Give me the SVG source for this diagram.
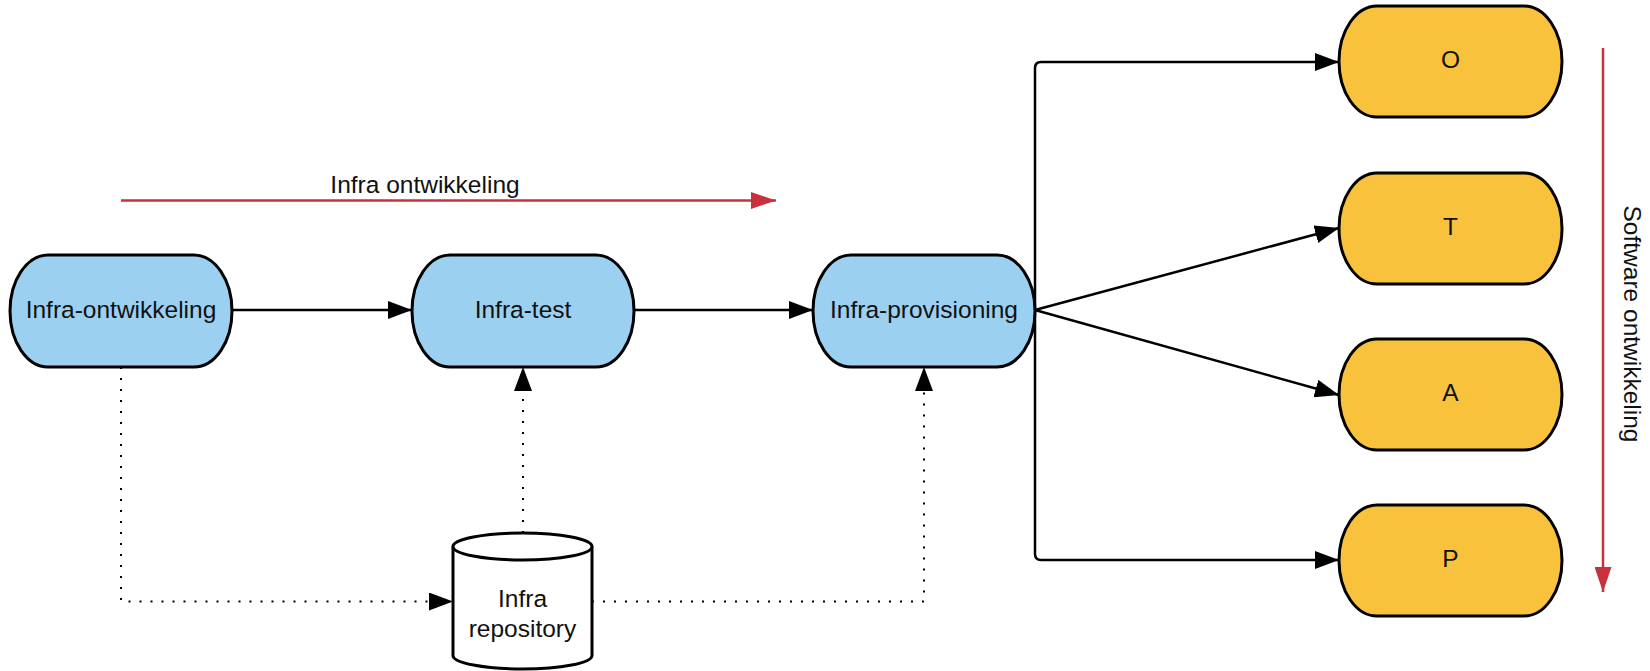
<svg xmlns="http://www.w3.org/2000/svg" width="1650" height="671" viewBox="0 0 1650 671">
<style>
  .blue { fill: #9CD0F1; stroke: #000; stroke-width: 3; }
  .orange { fill: #F9C23C; stroke: #000; stroke-width: 3; }
  .cyl { fill: #fff; stroke: #000; stroke-width: 3; }
  .lbl { font-family: "Liberation Sans", Arial, sans-serif; font-size: 24.5px; fill: #111; text-anchor: middle; }
  .solid { fill: none; stroke: #000; stroke-width: 2.5; }
  .dotted { fill: none; stroke: #000; stroke-width: 2; stroke-dasharray: 2 9; }
  .red { fill: none; stroke: #C8303C; stroke-width: 2.5; }
</style>
<defs>
  <marker id="ah" markerUnits="userSpaceOnUse" markerWidth="24" markerHeight="18" refX="24" refY="9" orient="auto">
    <path d="M0,0 L24,9 L0,18 Z" fill="#000"/>
  </marker>
  <marker id="ahr" markerUnits="userSpaceOnUse" markerWidth="25" markerHeight="17" refX="25" refY="8.5" orient="auto">
    <path d="M0,0 L25,8.5 L0,17 Z" fill="#C8303C"/>
  </marker>
</defs>

<g id="connectors">
  <line class="solid" x1="232" y1="310" x2="412" y2="310" marker-end="url(#ah)"/>
  <line class="solid" x1="634" y1="310" x2="813" y2="310" marker-end="url(#ah)"/>
  <path class="solid" d="M1035,310 L1035,68 Q1035,62 1041,62 L1339,62" marker-end="url(#ah)"/>
  <line class="solid" x1="1035" y1="310" x2="1339" y2="228" marker-end="url(#ah)"/>
  <line class="solid" x1="1035" y1="310" x2="1339" y2="395" marker-end="url(#ah)"/>
  <path class="solid" d="M1035,310 L1035,554 Q1035,560 1041,560 L1339,560" marker-end="url(#ah)"/>
  <path class="dotted" d="M121,367 L121,601.5 L453,601.5" marker-end="url(#ah)"/>
  <line class="dotted" x1="523" y1="533" x2="523" y2="367" marker-end="url(#ah)"/>
  <path class="dotted" d="M592,601.5 L924,601.5 L924,367" marker-end="url(#ah)"/>
</g>

<g id="infra-ontwikkeling-arrow">
  <line class="red" x1="121" y1="200.5" x2="776" y2="200.5" marker-end="url(#ahr)"/>
  <text class="lbl" x="425" y="193">Infra ontwikkeling</text>
</g>

<g id="software-ontwikkeling-arrow">
  <line class="red" x1="1603" y1="48" x2="1603" y2="592" marker-end="url(#ahr)"/>
  <text class="lbl" transform="translate(1624,324) rotate(90)" x="0" y="0">Software ontwikkeling</text>
</g>

<g id="node-infra-ontwikkeling">
  <rect class="blue" x="10" y="255" width="222" height="112" rx="38" ry="56"/>
  <text class="lbl" x="121" y="318">Infra-ontwikkeling</text>
</g>
<g id="node-infra-test">
  <rect class="blue" x="412" y="255" width="222" height="112" rx="38" ry="56"/>
  <text class="lbl" x="523" y="318">Infra-test</text>
</g>
<g id="node-infra-provisioning">
  <rect class="blue" x="813" y="255" width="222" height="112" rx="38" ry="56"/>
  <text class="lbl" x="924" y="318">Infra-provisioning</text>
</g>

<g id="node-O">
  <rect class="orange" x="1339" y="6" width="223" height="111" rx="38" ry="55.5"/>
  <text class="lbl" x="1450.5" y="68">O</text>
</g>
<g id="node-T">
  <rect class="orange" x="1339" y="173" width="223" height="111" rx="38" ry="55.5"/>
  <text class="lbl" x="1450.5" y="234.5">T</text>
</g>
<g id="node-A">
  <rect class="orange" x="1339" y="339" width="223" height="111" rx="38" ry="55.5"/>
  <text class="lbl" x="1450.5" y="400.5">A</text>
</g>
<g id="node-P">
  <rect class="orange" x="1339" y="505" width="223" height="111" rx="38" ry="55.5"/>
  <text class="lbl" x="1450.5" y="566.5">P</text>
</g>

<g id="node-infra-repository">
  <path class="cyl" d="M453,546.5 L453,655.5 A69.5,13.5 0 0 0 592,655.5 L592,546.5"/>
  <ellipse class="cyl" cx="522.5" cy="546.5" rx="69.5" ry="13.5"/>
  <text class="lbl" x="522.5" y="606.5">Infra</text>
  <text class="lbl" x="522.5" y="636.5">repository</text>
</g>
</svg>
